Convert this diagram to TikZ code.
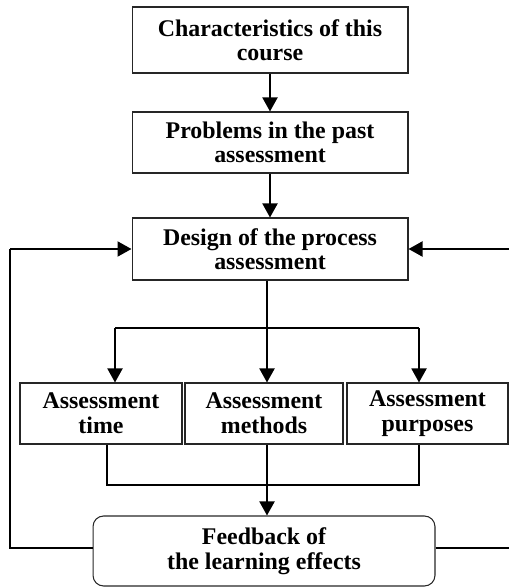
\documentclass[tikz,border=0pt]{standalone}
\usepackage{fontspec}
\setmainfont{Liberation Serif}
\usetikzlibrary{arrows.meta, positioning}
\tikzset{
	box/.style={rectangle, draw=black!85, line width=0.6pt, align=center, inner sep=1pt, font=\fontsize{13.6}{13.4}\selectfont\bfseries},
	lowbox/.style={box, font=\fontsize{13.6}{14}\selectfont\bfseries},
	flowarrow/.style={-{Triangle[length=0.28cm, width=0.3cm]}, line width=1.1pt},
	trunk/.style={line width=1.1pt},
	fine/.style={line width=0.6pt},
}
\begin{document}
\begin{tikzpicture}[x=0.02cm, y=-0.02cm]
	\useasboundingbox (0,0) rectangle (509,587);
	% main chain
	\node[box, minimum width=5.52cm, minimum height=1.32cm] (chars) at (270,40) {Characteristics of this\\course};
	\node[box, minimum width=5.52cm, minimum height=1.22cm] (probs) at (270,142.5) {Problems in the past\\assessment};
	\node[box, minimum width=5.52cm, minimum height=1.24cm] (design) at (270,249) {Design of the process\\assessment};
	% three aspects
	\node[lowbox, minimum width=3.24cm, minimum height=1.22cm] (atime) at (101,413.5) {Assessment\\time};
	\node[lowbox, minimum width=3.16cm, minimum height=1.22cm] (ameth) at (264,413.5) {Assessment\\methods};
	\node[lowbox, minimum width=3.22cm, minimum height=1.22cm] (apurp) at (427.5,413.5) {Assessment\\purposes};
	\node[lowbox, rounded corners=6pt, minimum width=6.84cm, minimum height=1.4cm] (feedb) at (264,551) {Feedback of\\the learning effects};
	% helper points
	\coordinate (split) at (267,328);
	\coordinate (tl) at (115,328);
	\coordinate (tr) at (419,328);
	\coordinate (jl) at (107,485);
	\coordinate (jr) at (419,485);
	\coordinate (loopl) at (10,548);
	\coordinate (loopr) at (509,548);
	\coordinate (inr) at (509,249);
	% connectors
	\draw[flowarrow] (chars) -- (probs);
	\draw[flowarrow] (probs) -- (design);
	\draw[trunk] (design.south -| split) -- (split);
	\draw[trunk] (tl) -- (tr);
	\draw[flowarrow] (split) -- (split |- ameth.north);
	\draw[flowarrow] (tl) -- (tl |- atime.north);
	\draw[flowarrow] (tr) -- (tr |- apurp.north);
	\draw[fine] (jl |- atime.south) -- (jl) -- (jr) -- (jr |- apurp.south);
	\draw[flowarrow] (ameth.south -| split) -- (feedb.north -| split);
	% feedback loop
	\draw[fine] (feedb.west |- loopl) -- (loopl) -- (loopl |- design.west);
	\draw[flowarrow] (loopl |- design.west) -- (design.west);
	\draw[fine] (feedb.east |- loopr) -- (loopr);
	\draw[flowarrow] (inr) -- (design.east);
\end{tikzpicture}
\end{document}
